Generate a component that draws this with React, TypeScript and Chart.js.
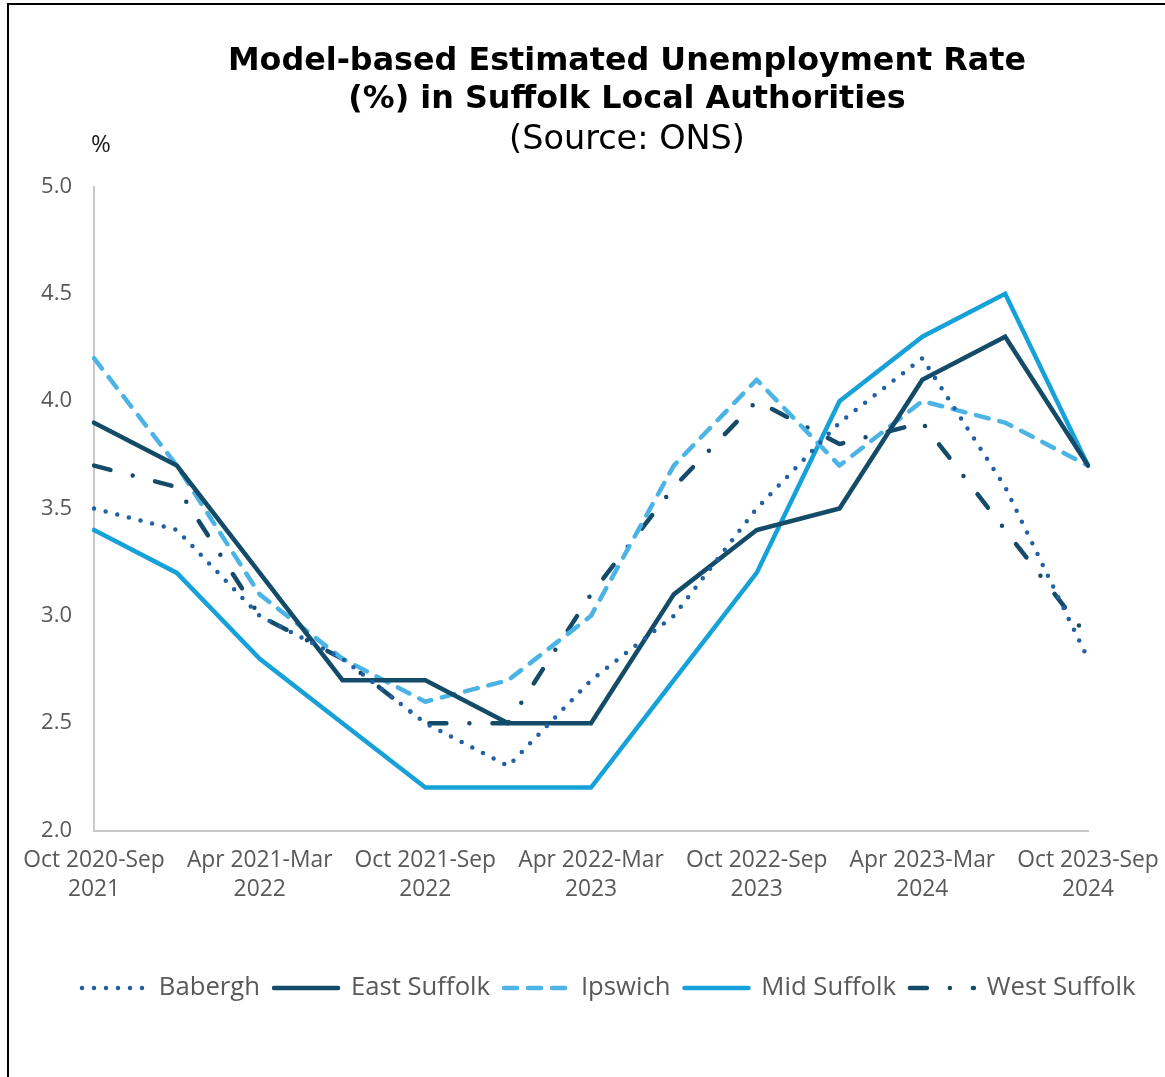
import React, { useEffect, useRef } from "react";
import { Chart, registerables } from "chart.js";

Chart.register(...registerables);

const titleLines = ["Model-based Estimated Unemployment Rate", "(%) in Suffolk Local Authorities"];
const subtitleText = "(Source: ONS)";
const unitLabel = "%";

const categories = [
  "Oct 2020-Sep 2021",
  "Jan 2021-Dec 2021",
  "Apr 2021-Mar 2022",
  "Jul 2021-Jun 2022",
  "Oct 2021-Sep 2022",
  "Jan 2022-Dec 2022",
  "Apr 2022-Mar 2023",
  "Jul 2022-Jun 2023",
  "Oct 2022-Sep 2023",
  "Jan 2023-Dec 2023",
  "Apr 2023-Mar 2024",
  "Jul 2023-Jun 2024",
  "Oct 2023-Sep 2024",
];

const babergh = [3.5, 3.4, 3.0, 2.8, 2.5, 2.3, 2.7, 3.0, 3.5, 3.9, 4.2, 3.6, 2.8];
const eastSuffolk = [3.9, 3.7, 3.2, 2.7, 2.7, 2.5, 2.5, 3.1, 3.4, 3.5, 4.1, 4.3, 3.7];
const ipswich = [4.2, 3.7, 3.1, 2.8, 2.6, 2.7, 3.0, 3.7, 4.1, 3.7, 4.0, 3.9, 3.7];
const midSuffolk = [3.4, 3.2, 2.8, 2.5, 2.2, 2.2, 2.2, 2.7, 3.2, 4.0, 4.3, 4.5, 3.7];
const westSuffolk = [3.7, 3.6, 3.0, 2.8, 2.5, 2.5, 3.1, 3.6, 4.0, 3.8, 3.9, 3.4, 2.9];

const yMin = 2.0;
const yMax = 5.0;
const yStep = 0.5;

const TICK_COLOR = "#595959";
const AXIS_COLOR = "#c8c8c8";
const TITLE_CENTER_X = 627;
const LEGEND_LEFT = 68;

function splitLabel(label: string): string[] {
  const i = label.lastIndexOf(" ");
  return [label.slice(0, i), label.slice(i + 1)];
}

const percentLabelPlugin = {
  id: "percentLabel",
  afterDraw(chart: any) {
    const { ctx, chartArea } = chart;
    ctx.save();
    ctx.font = '24px "Open Sans"';
    ctx.fillStyle = "#1a1a1a";
    ctx.textAlign = "left";
    ctx.textBaseline = "middle";
    ctx.fillText(unitLabel, chartArea.left - 3, chartArea.top - 41);
    ctx.restore();
  },
};

const placementPlugin = {
  id: "placement",
  afterLayout(chart: any) {
    const lg = chart.legend;
    if (lg) {
      lg.left = LEGEND_LEFT;
      lg.right = chart.width;
      lg.width = lg.right - lg.left;
    }
    for (const b of chart.boxes) {
      if (b !== lg && b.position === "top" && b.options && b.options.text !== undefined) {
        const w = b.right - b.left;
        b.left = TITLE_CENTER_X - w / 2;
        b.right = b.left + w;
      }
    }
  },
};

export default function App() {
  const canvasRef = useRef<HTMLCanvasElement | null>(null);

  useEffect(() => {
    const canvas = canvasRef.current;
    if (!canvas) return;
    const common = {
      pointRadius: 0,
      pointHoverRadius: 0,
      borderWidth: 4.5,
      tension: 0,
      fill: false,
    };
    const chart = new Chart(canvas, {
      type: "line",
      data: {
        labels: categories,
        datasets: [
          {
            ...common,
            label: "Babergh",
            data: babergh,
            borderColor: "#2160a2",
            backgroundColor: "#2160a2",
            borderDash: [0, 12],
            borderCapStyle: "round",
            borderJoinStyle: "round",
          },
          {
            ...common,
            label: "East Suffolk",
            data: eastSuffolk,
            borderColor: "#134b68",
            backgroundColor: "#134b68",
            borderCapStyle: "round",
            borderJoinStyle: "miter",
          },
          {
            ...common,
            label: "Ipswich",
            data: ipswich,
            borderColor: "#4cb4e5",
            backgroundColor: "#4cb4e5",
            borderDash: [13, 11],
            borderCapStyle: "round",
            borderJoinStyle: "round",
          },
          {
            ...common,
            label: "Mid Suffolk",
            data: midSuffolk,
            borderColor: "#16a2d9",
            backgroundColor: "#16a2d9",
            borderCapStyle: "round",
            borderJoinStyle: "miter",
          },
          {
            ...common,
            label: "West Suffolk",
            data: westSuffolk,
            borderColor: "#134b68",
            backgroundColor: "#134b68",
            borderDash: [17, 23, 0, 23],
            borderCapStyle: "round",
            borderJoinStyle: "round",
          },
        ],
      },
      options: {
        responsive: false,
        animation: false,
        devicePixelRatio: 1,
        events: [],
        layout: { padding: { left: 20, right: 0, top: 0, bottom: 66.15 } },
        plugins: {
          title: {
            display: true,
            text: titleLines,
            color: "#000000",
            font: { family: '"DejaVu Sans"', size: 31.8, weight: "bold", lineHeight: "38px" },
            padding: { top: 43, bottom: 2 },
          },
          subtitle: {
            display: true,
            text: subtitleText,
            color: "#000000",
            font: { family: '"DejaVu Sans"', size: 33.5, weight: "normal", lineHeight: "38px" },
            padding: { top: 0, bottom: 27.5 },
          },
          legend: {
            display: true,
            position: "bottom",
            align: "start",
            labels: {
              usePointStyle: true,
              pointStyle: "line",
              pointStyleWidth: 64,
              boxHeight: 24,
              padding: 14,
              color: TICK_COLOR,
              font: { family: '"Open Sans"', size: 25.7 },
              generateLabels: (ch: any) =>
                ch.data.datasets.map((ds: any, i: number) => ({
                  text: ds.label,
                  fillStyle: ds.borderColor,
                  strokeStyle: ds.borderColor,
                  fontColor: TICK_COLOR,
                  lineWidth: ds.borderWidth,
                  lineDash: ds.borderDash ? ds.borderDash.slice() : [],
                  lineDashOffset: 0,
                  lineCap: ds.borderCapStyle,
                  lineJoin: "round",
                  pointStyle: "line",
                  rotation: 0,
                  hidden: false,
                  datasetIndex: i,
                })),
            },
          },
          tooltip: { enabled: false },
        },
        scales: {
          x: {
            type: "category",
            offset: false,
            grid: { display: false, drawTicks: false },
            border: { display: true, color: AXIS_COLOR, width: 2 },
            afterFit(scale: any) {
              scale.height = 130.65;
              scale.paddingLeft = 0;
              scale.paddingRight = 77;
            },
            ticks: {
              autoSkip: false,
              maxRotation: 0,
              minRotation: 0,
              padding: 16.25,
              color: TICK_COLOR,
              font: { family: '"Open Sans"', size: 22.8, lineHeight: "28.5px" },
              callback: (_v: any, i: number) => (i % 2 === 0 ? splitLabel(categories[i]) : ""),
            },
          },
          y: {
            min: yMin,
            max: yMax,
            grid: { display: false, drawTicks: false },
            border: { display: true, color: AXIS_COLOR, width: 2 },
            afterFit(scale: any) {
              scale.width = 74;
            },
            ticks: {
              stepSize: yStep,
              padding: 22,
              color: TICK_COLOR,
              font: { family: '"Open Sans"', size: 22 },
              callback: (v: any) => Number(v).toFixed(1),
            },
          },
        },
      },
      plugins: [percentLabelPlugin, placementPlugin],
    } as any);
    return () => chart.destroy();
  }, []);

  return (
    <div
      style={{
        position: "absolute",
        left: 0,
        top: 0,
        width: 1165,
        height: 1077,
        overflow: "hidden",
        background: "#ffffff",
      }}
    >
      <div
        style={{
          position: "absolute",
          left: 7,
          top: 3,
          width: 1300,
          height: 1300,
          border: "2px solid #000000",
          boxSizing: "border-box",
        }}
      />
      <canvas
        ref={canvasRef}
        width={1165}
        height={1077}
        style={{ position: "absolute", left: 0, top: 0, display: "block", width: 1165, height: 1077 }}
      />
    </div>
  );
}
